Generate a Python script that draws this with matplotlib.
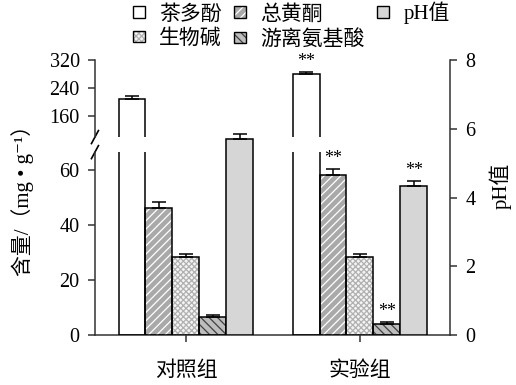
import numpy as np
import matplotlib
matplotlib.use('Agg')
import matplotlib.pyplot as plt
from matplotlib.patches import Patch
from matplotlib.legend_handler import HandlerTuple

plt.rcParams['font.family'] = ['Liberation Serif', 'Noto Sans CJK SC', 'DejaVu Serif']
plt.rcParams['hatch.linewidth'] = 0.9

# data
groups = ['对照组', '实验组']
tea = [208, 280]          # 茶多酚 (upper axis)
tea_err = [9, 6]
flav = [46.3, 58.2]       # 总黄酮
flav_err = [2.2, 2.2]
alk = [28.2, 28.2]        # 生物碱
alk_err = [1.3, 1.1]
amino = [6.5, 4.0]        # 游离氨基酸
amino_err = [0.7, 0.7]
ph = [5.70, 4.33]         # pH值 (right axis)
ph_err = [0.15, 0.15]
# ** marks per series, per group
sig = [[False, True], [False, True], [False, False], [False, True], [False, True]]

labels = ['茶多酚', '总黄酮', '生物碱', '游离氨基酸', 'pH值']
styles = [
    ('white', None, None),
    ('#a9a9a9', '////', 'white'),
    ('#f4f4f4', 'xxxxxx', '#b0b0b0'),
    ('#bdbdbd', '\\\\\\\\', '#404040'),
    ('#d6d6d6', None, None),
]

w = 0.155
x = np.arange(len(groups))
xlim = (-0.523, 1.517)
spine_col = '#333333'

fig = plt.figure(figsize=(5.16, 3.85), dpi=100)
ax_lo = fig.add_axes([0.184, 0.1299, 0.688, 0.475])
ax_hi = fig.add_axes([0.184, 0.644, 0.688, 0.2])
ax_ph = fig.add_axes([0.184, 0.1299, 0.688, 0.714])
for a in (ax_lo, ax_hi, ax_ph):
    a.patch.set_visible(False)
    a.set_xlim(*xlim)
    for s in a.spines.values():
        s.set_color(spine_col)
        s.set_linewidth(1.1)


def draw(ax, xs, h, err, style, marks):
    face, hatch, hcol = style
    ax.bar(xs, h, w, color=face, edgecolor='none', zorder=2)
    if hatch:
        ax.bar(xs, h, w, color='none', edgecolor=hcol, hatch=hatch, linewidth=0, zorder=3)
    ax.bar(xs, h, w, color='none', edgecolor='black', linewidth=1.1, zorder=4)
    ax.errorbar(xs, h, yerr=[np.zeros(len(h)), err], fmt='none', ecolor='black',
                elinewidth=1.1, capsize=5, capthick=1.1, zorder=5)
    for xi, hi, ei, s in zip(xs, h, err, marks):
        if s:
            ax.annotate('**', (xi, hi + ei), xytext=(0, 7.5), textcoords='offset points',
                        ha='center', va='center', fontsize=13, annotation_clip=False)


series = [tea, flav, alk, amino, ph]
errs = [tea_err, flav_err, alk_err, amino_err, ph_err]
for i in range(4):
    xs = x + (i - 2) * w
    if i == 0:
        draw(ax_lo, xs, series[i], errs[i], styles[i], [False, False])
        draw(ax_hi, xs, series[i], errs[i], styles[i], sig[i])
    else:
        draw(ax_lo, xs, series[i], errs[i], styles[i], sig[i])
draw(ax_ph, x + 2 * w, ph, ph_err, styles[4], sig[4])

# lower left axis
ax_lo.set_ylim(0, 66.5)
ax_lo.set_yticks([0, 20, 40, 60])
ax_lo.set_xticks(x)
ax_lo.set_xticklabels(groups, fontsize=15)
ax_lo.spines[['top', 'right']].set_visible(False)
ax_lo.tick_params(axis='y', labelsize=14.5, length=5, width=1.1, color=spine_col, pad=6)
ax_lo.tick_params(axis='x', length=5, width=1.1, color=spine_col, pad=14)

# upper left axis
ax_hi.set_ylim(100, 320)
ax_hi.set_yticks([160, 240, 320])
ax_hi.set_xticks([])
ax_hi.spines[['top', 'right', 'bottom']].set_visible(False)
ax_hi.tick_params(axis='y', labelsize=14.5, length=5, width=1.1, color=spine_col, pad=6)

# pH axis
ax_ph.set_ylim(0, 8)
ax_ph.set_yticks([0, 2, 4, 6, 8])
ax_ph.set_xticks([])
ax_ph.yaxis.tick_right()
ax_ph.spines[['top', 'left', 'bottom']].set_visible(False)
ax_ph.tick_params(axis='y', labelsize=14.5, length=5, width=1.1, color=spine_col, pad=6)

# break marks
for a, yy in ((ax_hi, 0.0), (ax_lo, 1.0)):
    bb = a.get_position()
    dx = 3.5 / (bb.width * 516)
    dy = 6.5 / (bb.height * 385)
    a.plot([-dx, dx], [yy - dy, yy + dy], transform=a.transAxes, color='black',
           lw=1.2, clip_on=False)

fig.text(23 / 516, 1 - 195 / 385, '含量/（mg • g⁻¹）', rotation=90,
         ha='center', va='center', fontsize=15)
fig.text(500 / 516, 1 - 186 / 385, 'pH值', rotation=90,
         ha='center', va='center', fontsize=15)

handles = []
for face, hatch, hcol in styles:
    parts = [Patch(facecolor=face, edgecolor='none')]
    if hatch:
        parts.append(Patch(facecolor='none', edgecolor=hcol, hatch=hatch, linewidth=0))
    parts.append(Patch(facecolor='none', edgecolor='black', linewidth=1.0))
    handles.append(tuple(parts))
order = [0, 2, 1, 3, 4]
fig.legend([handles[i] for i in order], [labels[i] for i in order],
           handler_map={tuple: HandlerTuple(ndivide=1)},
           loc='upper center', bbox_to_anchor=(0.565, 0.995), ncol=3, frameon=False,
           fontsize=15, handlelength=0.55, handleheight=0.45, handletextpad=0.7,
           columnspacing=0.6, labelspacing=0.25, borderaxespad=0, borderpad=0)

fig.savefig('out.png', dpi=100)
